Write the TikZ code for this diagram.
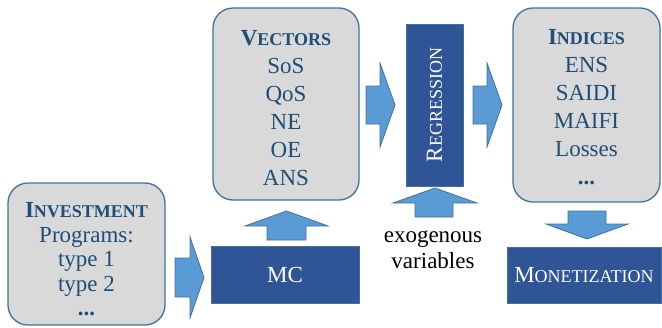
\documentclass[tikz,border=0pt]{standalone}
\usepackage{fontspec}
\setmainfont{Liberation Serif}
\definecolor{boxgray}{HTML}{D9D9D9}
\definecolor{edgeblue}{HTML}{41719C}
\definecolor{darkbox}{HTML}{2F5597}
\definecolor{arrowblue}{HTML}{5B9BD5}
\definecolor{txtblue}{HTML}{1F4E79}
\newcommand\capsfake[2]{#1{\fontsize{18}{18}\selectfont #2}}
\begin{document}
\begin{tikzpicture}[x=1pt,y=-1pt,
  gbox/.style={draw=edgeblue, line width=1.3pt, fill=boxgray, rounded corners=20pt, inner sep=0pt},
  gtext/.style={text=txtblue, align=center, inner sep=0pt},
  dbox/.style={draw=edgeblue, line width=1pt, fill=darkbox, text=white,
    font=\fontsize{23}{27}\selectfont, inner sep=0pt},
  blockarrow/.style={fill=arrowblue, draw=edgeblue, line width=0.8pt, line join=miter},
  plain/.style={font=\fontsize{23}{26}\selectfont, align=center, inner sep=0pt}]
\useasboundingbox (0,0) rectangle (662,327);

% boxes
\node[gbox, minimum width=157pt, minimum height=142pt] (inv) at (86.5,254) {};
\node[gtext, font=\fontsize{23}{24.5}\selectfont] (invtxt) at (86.5,259.5)
  {\textbf{\capsfake{I}{NVESTMENT}}\\Programs:\\type 1\\type 2\\\textbf{...}};
\node[gbox, minimum width=146pt, minimum height=192pt] (vec) at (286,104) {};
\node[gtext, font=\fontsize{23}{28}\selectfont] (vectxt) at (286,108)
  {\textbf{\capsfake{V}{ECTORS}}\\SoS\\QoS\\NE\\OE\\ANS};
\node[gbox, minimum width=147pt, minimum height=194pt] (ind) at (586.5,105) {};
\node[gtext, font=\fontsize{23}{28}\selectfont] (indtxt) at (586.5,107.5)
  {\textbf{\capsfake{I}{NDICES}}\\ENS\\SAIDI\\MAIFI\\Losses\\\textbf{...}};

\node[dbox, minimum width=57pt, minimum height=162pt] (reg) at (434.5,105) {};
\node[text=white, font=\fontsize{23}{27}\selectfont, rotate=90, inner sep=0pt]
  (regtxt) at (reg.center) {\capsfake{R}{EGRESSION}};
\node[dbox, minimum width=148pt, minimum height=57pt] (mc) at (285,274.5) {MC};
\node[dbox, minimum width=154pt, minimum height=56pt] (mon) at (584,275)
  {\capsfake{M}{ONETIZATION}};

\node[plain] (exo) at (433,250) {exogenous\\variables};

% block arrows
\draw[blockarrow] (175,258) -- (190,258) -- (190,237) -- (204,277.5) -- (190,318)
  -- (190,297) -- (175,297) -- cycle;
\draw[blockarrow] (267,240) -- (267,226) -- (245,226) -- (286.5,211) -- (328,226)
  -- (306,226) -- (306,240) -- cycle;
\draw[blockarrow] (366,86) -- (380,86) -- (380,63) -- (395,105) -- (380,147)
  -- (380,124) -- (366,124) -- cycle;
\draw[blockarrow] (473,86) -- (487,86) -- (487,63) -- (502,105) -- (487,147)
  -- (487,124) -- (473,124) -- cycle;
\draw[blockarrow] (415,217) -- (415,203) -- (393,203) -- (435,188) -- (477,203)
  -- (453,203) -- (453,217) -- cycle;
\draw[blockarrow] (568,211) -- (606,211) -- (606,224) -- (628,224) -- (587,239)
  -- (546,224) -- (568,224) -- cycle;
\end{tikzpicture}
\end{document}
